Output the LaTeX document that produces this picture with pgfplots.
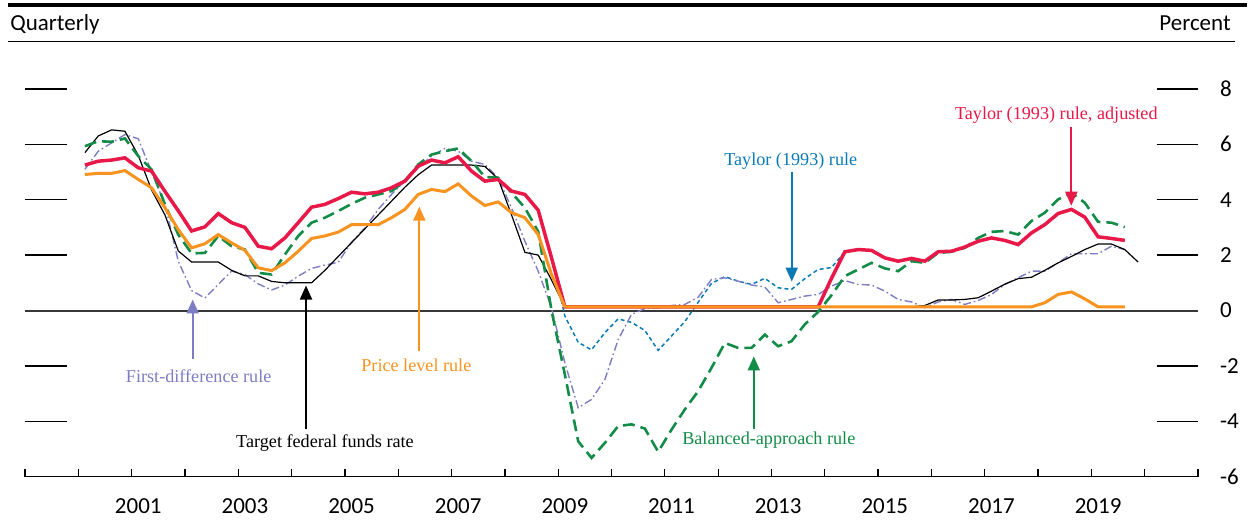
\documentclass[border=0pt]{standalone}
\usepackage{fontspec}
\setmainfont{Carlito}
\newfontfamily\seriffont{Liberation Serif}
\usepackage{pgfplots}
\pgfplotsset{compat=1.18}
\usepackage{pgfplotstable}
\usetikzlibrary{arrows.meta}
\definecolor{cred}{RGB}{232,24,72}
\definecolor{corange}{RGB}{247,147,30}
\definecolor{cgreen}{RGB}{18,140,70}
\definecolor{cpurple}{RGB}{125,125,195}
\definecolor{cblue}{RGB}{10,122,180}

\pgfplotstableread{
t ffr tay adj bal fd pl
2000.00 5.70 5.25 5.25 5.93 5.10 4.91
2000.25 6.30 5.39 5.39 6.11 5.75 4.95
2000.50 6.52 5.43 5.43 6.09 6.05 4.95
2000.75 6.47 5.51 5.51 6.21 6.35 5.05
2001.00 5.60 5.15 5.15 5.57 6.20 4.73
2001.25 4.35 5.03 5.03 5.09 5.00 4.43
2001.50 3.45 4.30 4.30 3.83 3.83 3.71
2001.75 2.15 3.60 3.60 2.74 1.78 2.92
2002.00 1.75 2.87 2.87 2.06 0.72 2.26
2002.25 1.75 3.02 3.02 2.08 0.45 2.41
2002.50 1.75 3.50 3.50 2.69 0.94 2.74
2002.75 1.45 3.17 3.17 2.32 1.42 2.44
2003.00 1.25 3.00 3.00 2.20 1.30 2.17
2003.25 1.25 2.32 2.32 1.36 0.96 1.54
2003.50 1.05 2.23 2.23 1.30 0.74 1.44
2003.75 1.00 2.62 2.62 2.02 0.92 1.72
2004.00 1.00 3.17 3.17 2.69 1.24 2.14
2004.25 1.00 3.73 3.73 3.17 1.52 2.60
2004.50 1.45 3.83 3.83 3.35 1.64 2.69
2004.75 1.95 4.04 4.04 3.59 1.74 2.83
2005.00 2.45 4.27 4.27 3.85 2.47 3.10
2005.25 2.95 4.21 4.21 4.07 2.98 3.10
2005.50 3.45 4.27 4.27 4.19 3.65 3.10
2005.75 3.95 4.43 4.43 4.31 4.19 3.35
2006.00 4.45 4.67 4.67 4.67 4.67 3.65
2006.25 4.90 5.21 5.21 5.27 5.15 4.19
2006.50 5.25 5.43 5.43 5.63 5.57 4.37
2006.75 5.25 5.33 5.33 5.75 5.85 4.29
2007.00 5.25 5.55 5.55 5.85 5.75 4.57
2007.25 5.25 5.03 5.03 5.39 5.39 4.13
2007.50 5.20 4.67 4.67 4.82 5.27 3.79
2007.75 4.75 4.73 4.73 4.79 4.79 3.92
2008.00 3.45 4.31 4.31 4.25 3.70 3.53
2008.25 2.10 4.19 4.19 3.71 2.50 3.35
2008.50 2.00 3.62 3.62 2.85 1.42 2.74
2008.75 1.10 1.90 1.90 0.00 0.10 1.30
2009.00 0.13 -0.20 0.13 -2.31 -1.89 0.13
2009.25 0.13 -1.15 0.13 -4.72 -3.51 0.13
2009.50 0.13 -1.42 0.13 -5.32 -3.21 0.13
2009.75 0.13 -0.80 0.13 -4.78 -2.49 0.13
2010.00 0.13 -0.30 0.13 -4.17 -1.05 0.13
2010.25 0.13 -0.43 0.13 -4.11 -0.14 0.13
2010.50 0.13 -0.72 0.13 -4.26 0.07 0.13
2010.75 0.13 -1.44 0.13 -5.10 0.10 0.13
2011.00 0.13 -0.92 0.13 -4.30 0.18 0.13
2011.25 0.13 -0.40 0.13 -3.57 0.22 0.13
2011.50 0.13 0.30 0.13 -2.91 0.48 0.13
2011.75 0.13 0.98 0.13 -2.07 1.12 0.13
2012.00 0.13 1.22 0.13 -1.17 1.18 0.13
2012.25 0.13 1.06 0.13 -1.35 1.06 0.13
2012.50 0.13 0.94 0.13 -1.35 0.92 0.13
2012.75 0.13 1.16 0.13 -0.87 0.85 0.13
2013.00 0.13 0.82 0.13 -1.29 0.28 0.13
2013.25 0.13 0.76 0.13 -1.11 0.40 0.13
2013.50 0.13 1.15 0.13 -0.50 0.52 0.13
2013.75 0.13 1.48 0.13 -0.05 0.58 0.13
2014.00 0.13 1.55 1.16 0.55 0.88 0.13
2014.25 0.13 2.12 2.12 1.24 1.08 0.13
2014.50 0.13 2.20 2.20 1.48 0.94 0.13
2014.75 0.13 2.17 2.17 1.72 0.92 0.13
2015.00 0.13 1.90 1.90 1.52 0.70 0.13
2015.25 0.13 1.78 1.78 1.42 0.40 0.13
2015.50 0.13 1.88 1.88 1.78 0.31 0.13
2015.75 0.18 1.78 1.78 1.72 0.10 0.13
2016.00 0.38 2.12 2.12 2.08 0.31 0.13
2016.25 0.38 2.14 2.14 2.12 0.40 0.13
2016.50 0.40 2.29 2.29 2.26 0.22 0.13
2016.75 0.46 2.50 2.50 2.62 0.36 0.13
2017.00 0.70 2.62 2.62 2.84 0.58 0.13
2017.25 0.95 2.53 2.53 2.87 0.94 0.13
2017.50 1.15 2.38 2.38 2.74 1.18 0.13
2017.75 1.20 2.80 2.80 3.23 1.42 0.13
2018.00 1.45 3.10 3.10 3.53 1.42 0.28
2018.25 1.72 3.50 3.50 4.01 1.72 0.58
2018.50 1.95 3.65 3.65 4.25 2.05 0.67
2018.75 2.20 3.37 3.37 3.89 2.05 0.42
2019.00 2.40 2.66 2.66 3.20 2.05 0.13
2019.25 2.40 2.60 2.60 3.17 2.32 0.13
2019.50 2.20 2.53 2.53 3.01 2.20 0.13
2019.75 1.75 nan nan nan nan nan
}\data

\begin{document}
\begin{tikzpicture}
\begin{scope}[x=0.5pt,y=-0.5pt]
\path (0,0) rectangle (1249,523);
\draw[line width=2pt] (8,5) -- (1249,5);
\draw[line width=0.65pt] (8,41.5) -- (1237,41.5);
\node[anchor=base west, inner sep=0, font=\fontsize{11.5}{13}\selectfont] at (10,31) {Quarterly};
\node[anchor=base east, inner sep=0, font=\fontsize{11.5}{13}\selectfont] at (1233,31) {Percent};
\end{scope}

\begin{axis}[
  at={(12.5pt,-238.75pt)}, anchor=south west,
  width=587.5pt, height=194.25pt, scale only axis,
  xmin=1998.875, xmax=2020.875, ymin=-6, ymax=8,
  axis line style={draw=none},
  major tick length=0pt,
  xtick={2001,2003,2005,2007,2009,2011,2013,2015,2017,2019},
  xticklabels={2001,2003,2005,2007,2009,2011,2013,2015,2017,2019},
  ytick={-6,-4,-2,0,2,4,6,8},
  yticklabels={-6,-4,-2,0,2,4,6,8},
  yticklabel pos=right,
  ticklabel style={font=\fontsize{11.5}{13}\selectfont},
  yticklabel style={anchor=west, xshift=7.5pt},
  xticklabel style={yshift=-7.5pt},
  clip=false,
]
\draw[black!78, line width=1pt] (rel axis cs:0,0.428571) -- (rel axis cs:1,0.428571);
\draw[black, line width=0.7pt] (rel axis cs:0,0) -- (rel axis cs:1,0);
\pgfplotsinvokeforeach{0.142857,0.285714,0.571429,0.714286,0.857143,1}{
  \draw[line width=0.65pt] (rel axis cs:0,#1) -- (rel axis cs:0.03545,#1);
  \draw[line width=0.65pt] (rel axis cs:0.96455,#1) -- (rel axis cs:1,#1);
}
\pgfplotsinvokeforeach{0,1,2,3,4,5,6,7,8,9,10,11,12,13,14,15,16,17,18,19,20,21,22}{
  \draw[line width=0.65pt] (rel axis cs:#1/22,0) -- ++(0pt,4pt);
}
\addplot[cblue, line width=0.75pt, dash pattern=on 2pt off 1.5pt] table[x=t,y=tay] {\data};
\addplot[cpurple, line width=0.7pt, dash pattern=on 4pt off 1.5pt on 0.8pt off 1.5pt] table[x=t,y=fd] {\data};
\addplot[black, line width=0.6pt] table[x=t,y=ffr] {\data};
\addplot[cgreen, line width=1.3pt, dash pattern=on 6pt off 3pt] table[x=t,y=bal] {\data};
\addplot[cred, line width=1.75pt] table[x=t,y=adj] {\data};
\addplot[corange, line width=1.5pt] table[x=t,y=pl] {\data};
\end{axis}

\begin{scope}[x=0.5pt,y=-0.5pt]
\tikzset{lab/.style={font=\seriffont\fontsize{9.1}{11}\selectfont, inner sep=0pt},
  arr/.style={line width=1pt, -{Triangle[width=6pt,length=7pt]}}}
\node[lab, text=cred] at (1058,115) {Taylor (1993) rule, adjusted};
\draw[arr, cred] (1073,127) -- (1073,206);
\node[lab, text=cblue] at (792,161) {Taylor (1993) rule};
\draw[arr, cblue] (793,172) -- (793,282);
\node[lab, text=cgreen] at (770,441) {Balanced-approach rule};
\draw[arr, cgreen] (755,430) -- (755,357);
\node[lab, text=corange] at (417,366) {Price level rule};
\draw[arr, corange] (420,352) -- (420,207);
\node[lab, text=black] at (325.5,444) {Target federal funds rate};
\draw[arr, black] (306.5,430) -- (306.5,286);
\node[lab, text=cpurple] at (199,377) {First-difference rule};
\draw[arr, cpurple] (193,360) -- (193,300);
\end{scope}
\end{tikzpicture}
\end{document}
